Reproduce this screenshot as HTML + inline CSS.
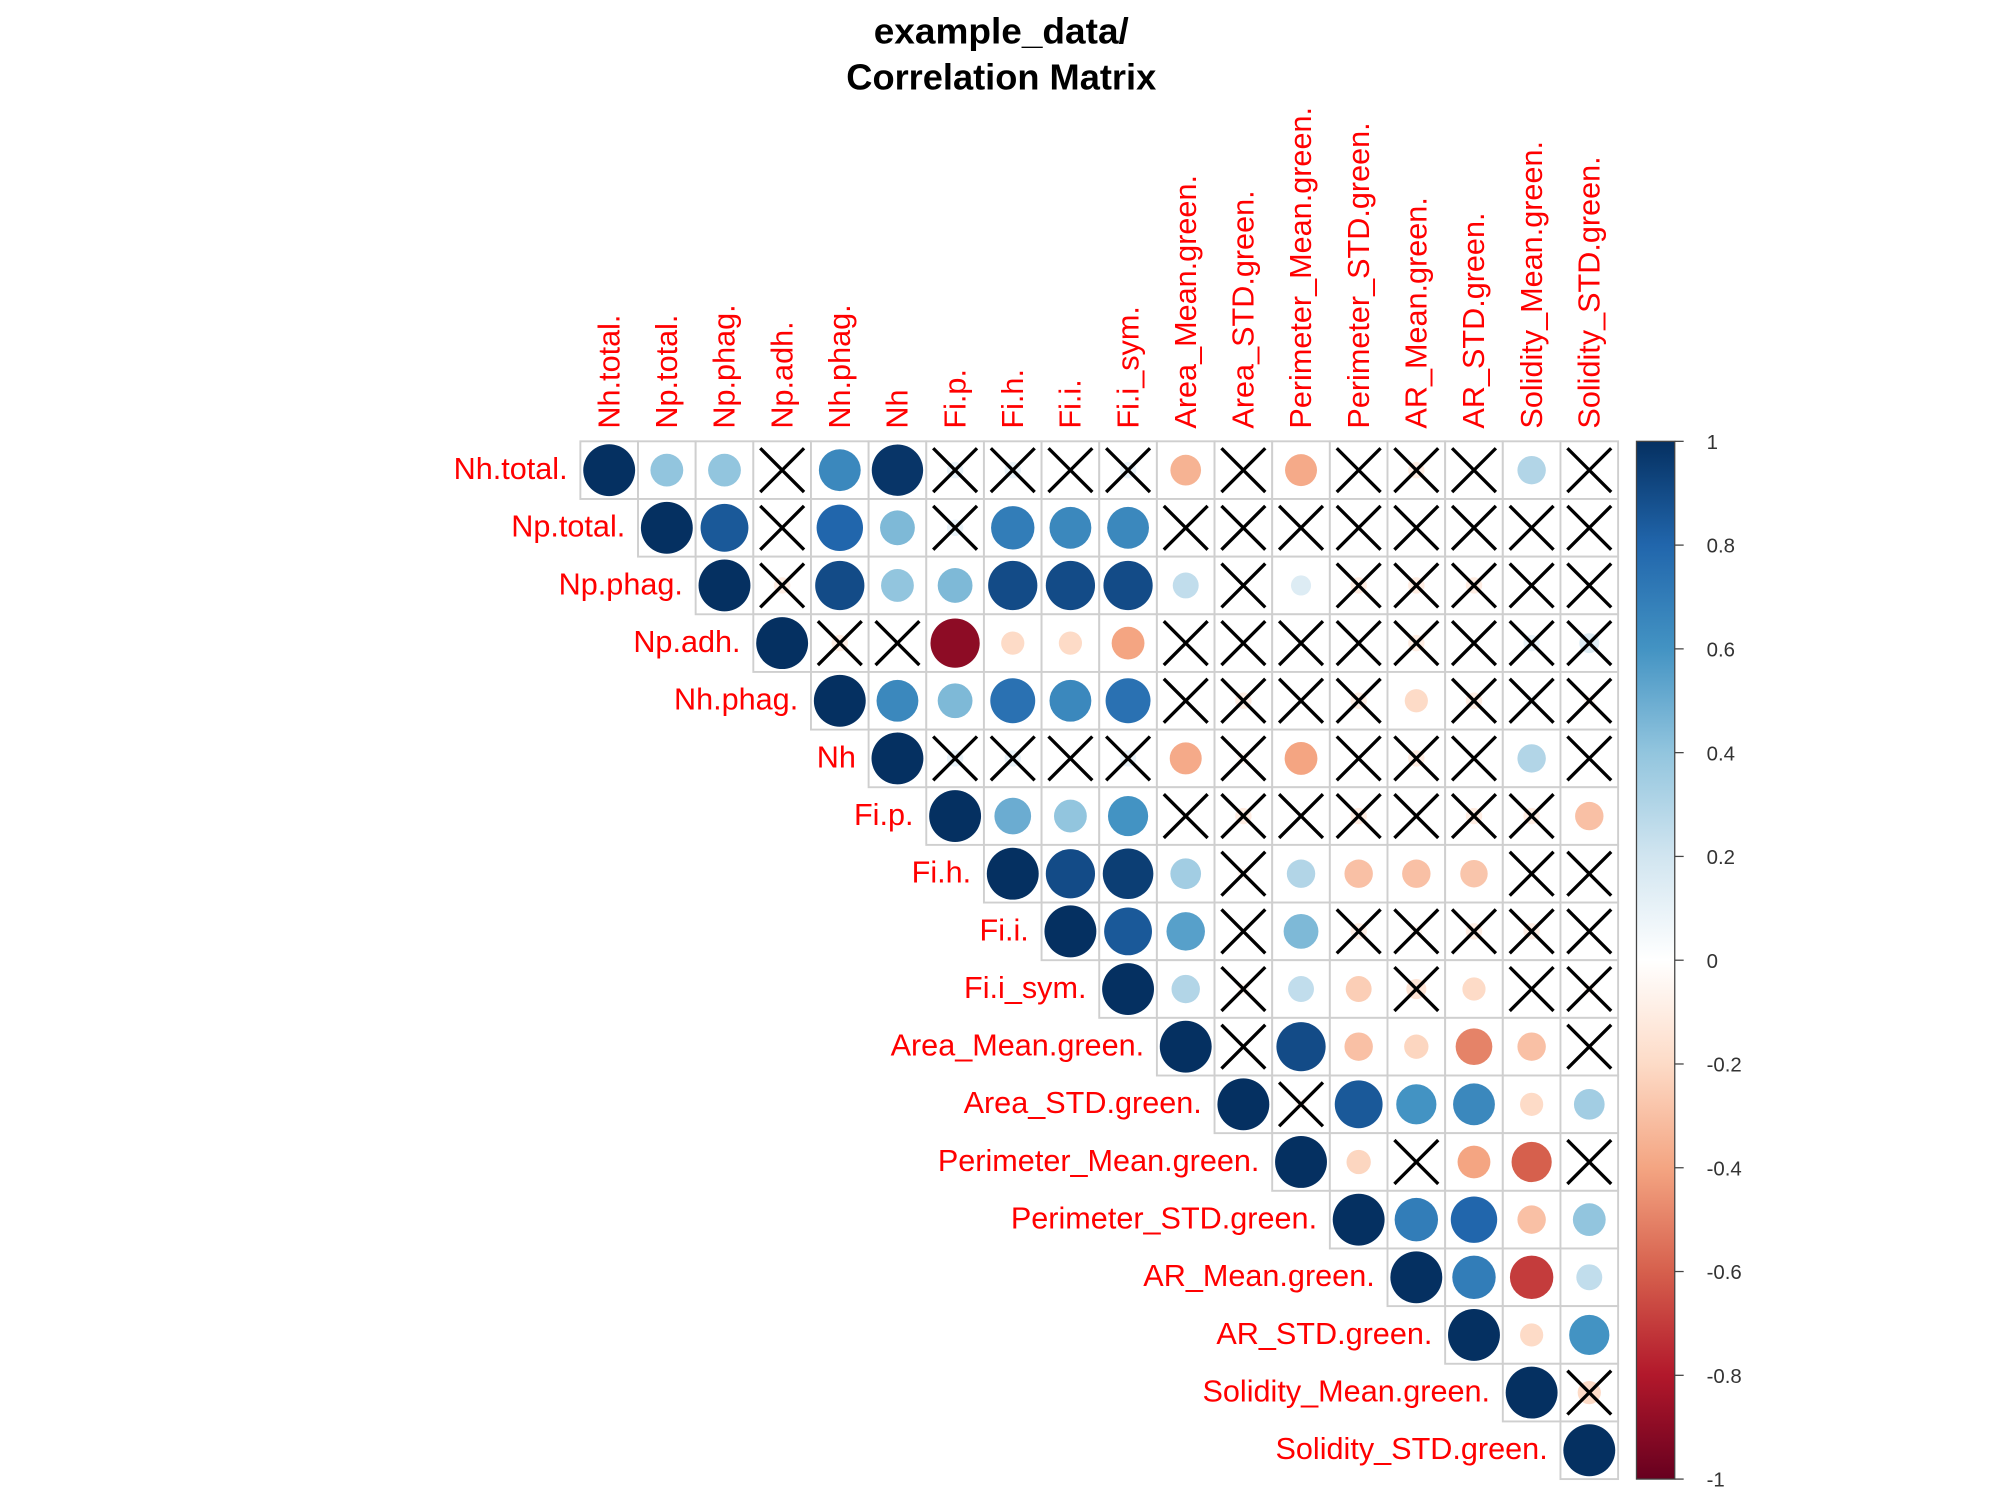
<!DOCTYPE html>
<html><head><meta charset="utf-8">
<style>html,body{margin:0;padding:0;background:#fff;}svg{display:block;}</style></head>
<body>
<svg id="chart" width="2000" height="1500" viewBox="0 0 1568 1176" preserveAspectRatio="none" xmlns="http://www.w3.org/2000/svg" font-family="'Liberation Sans', sans-serif">
<defs>
<linearGradient id="cbgrad" x1="0" y1="1" x2="0" y2="0">
<stop offset="0" stop-color="#67001F"/><stop offset="0.1" stop-color="#B2182B"/><stop offset="0.2" stop-color="#D6604D"/><stop offset="0.3" stop-color="#F4A582"/><stop offset="0.4" stop-color="#FDDBC7"/><stop offset="0.5" stop-color="#FFFFFF"/><stop offset="0.6" stop-color="#D1E5F0"/><stop offset="0.7" stop-color="#92C5DE"/><stop offset="0.8" stop-color="#4393C3"/><stop offset="0.9" stop-color="#2166AC"/><stop offset="1" stop-color="#053061"/>
</linearGradient>
</defs>
<text x="785" y="34" text-anchor="middle" font-size="28" font-weight="bold" textLength="200" lengthAdjust="spacingAndGlyphs">example_data/</text>
<text x="785" y="70" text-anchor="middle" font-size="28" font-weight="bold" textLength="243" lengthAdjust="spacingAndGlyphs">Correlation Matrix</text>
<g id="grid"></g>
<g id="colorbar"></g>
</svg>
<script>
const variables = ["Nh.total.","Np.total.","Np.phag.","Np.adh.","Nh.phag.","Nh","Fi.p.","Fi.h.","Fi.i.","Fi.i_sym.","Area_Mean.green.","Area_STD.green.","Perimeter_Mean.green.","Perimeter_STD.green.","AR_Mean.green.","AR_STD.green.","Solidity_Mean.green.","Solidity_STD.green."];
// upper triangle rows, starting at the diagonal
const corrRows = [
 [1,0.4,0.4,0,0.65,0.98,0.1,0.1,0,0.1,-0.35,0,-0.38,0,-0.1,0,0.3,0],
 [1,0.85,0,0.8,0.45,0.1,0.7,0.65,0.65,0,0,0,0,0,0,0,0],
 [1,-0.1,0.9,0.4,0.45,0.9,0.9,0.9,0.25,0,0.15,-0.1,-0.1,-0.1,0,0],
 [1,-0.1,0,-0.9,-0.2,-0.2,-0.4,0,0,0,0,-0.1,0,0.1,0.15],
 [1,0.65,0.45,0.75,0.65,0.75,0,-0.1,0,-0.1,-0.2,-0.1,0.05,-0.05],
 [1,0.1,0.1,0,0.1,-0.38,-0.05,-0.4,0,-0.1,0,0.3,0],
 [1,0.5,0.4,0.6,0,-0.1,0,-0.1,0,-0.1,-0.1,-0.3],
 [1,0.9,0.95,0.35,-0.05,0.3,-0.3,-0.3,-0.28,0,0],
 [1,0.85,0.55,0,0.45,-0.1,-0.05,-0.1,-0.1,0],
 [1,0.3,-0.05,0.25,-0.25,-0.15,-0.2,0,-0.05],
 [1,0,0.9,-0.3,-0.22,-0.5,-0.3,0],
 [1,-0.05,0.85,0.6,0.65,-0.2,0.35],
 [1,-0.22,0,-0.4,-0.6,0],
 [1,0.7,0.8,-0.3,0.4],
 [1,0.7,-0.7,0.25],
 [1,-0.2,0.6],
 [1,-0.2],
 [1]
];
// 1 = significant (circle), 0 = insignificant (cross)
const sigRows = [
 [1,1,1,0,1,1,0,0,0,0,1,0,1,0,0,0,1,0],
 [1,1,0,1,1,0,1,1,1,0,0,0,0,0,0,0,0],
 [1,0,1,1,1,1,1,1,1,0,1,0,0,0,0,0],
 [1,0,0,1,1,1,1,0,0,0,0,0,0,0,0],
 [1,1,1,1,1,1,0,0,0,0,1,0,0,0],
 [1,0,0,0,0,1,0,1,0,0,0,1,0],
 [1,1,1,1,0,0,0,0,0,0,0,1],
 [1,1,1,1,0,1,1,1,1,0,0],
 [1,1,1,0,1,0,0,0,0,0],
 [1,1,0,1,1,0,1,0,0],
 [1,0,1,1,1,1,1,0],
 [1,0,1,1,1,1,1],
 [1,1,0,1,1,0],
 [1,1,1,1,1],
 [1,1,1,1],
 [1,1,1],
 [1,0],
 [1]
];
const cbTicks = [1,0.8,0.6,0.4,0.2,0,-0.2,-0.4,-0.6,-0.8,-1];
const cbLabels = ["1","0.8","0.6","0.4","0.2","0","-0.2","-0.4","-0.6","-0.8","-1"];

const NS="http://www.w3.org/2000/svg";
const x0=455, y0=346, cw=45.2;
const xPos = j => x0 + j*cw;
const yPos = i => y0 + i*cw;
const palette=["#67001F","#B2182B","#D6604D","#F4A582","#FDDBC7","#FFFFFF","#D1E5F0","#92C5DE","#4393C3","#2166AC","#053061"];
function hex(h){return [1,3,5].map(k=>parseInt(h.substr(k,2),16));}
function colorOf(v){
  let t=(v+1)/2*10; let k=Math.min(9,Math.floor(t)); let f=t-k;
  const a=hex(palette[k]), b=hex(palette[k+1]);
  return "rgb("+a.map((c,q)=>Math.round(c+(b[q]-c)*f)).join(",")+")";
}
function mk(tag,attrs,parent){const e=document.createElementNS(NS,tag);for(const k in attrs)e.setAttribute(k,attrs[k]);parent.appendChild(e);return e;}
const g=document.getElementById("grid");
const n=variables.length;
for(let i=0;i<n;i++){
  for(let j=i;j<n;j++){
    const v=corrRows[i][j-i], s=sigRows[i][j-i];
    const cx=xPos(j)+cw/2, cy=yPos(i)+cw/2;
    const cell=mk("rect",{x:xPos(j),y:yPos(i),width:cw,height:cw,fill:"#fff",stroke:"#cfcfcf","stroke-width":1.5},g);
    
    
    const r=Math.sqrt(Math.abs(v))*cw*0.45;
    if(r>0.5){
      const c=mk("circle",{cx:cx,cy:cy,r:r,fill:colorOf(v)},g);
      
      
    }
    if(!s){
      const d=cw*0.38;
      const p=mk("path",{d:`M${cx-d},${cy-d}L${cx+d},${cy+d}M${cx+d},${cy-d}L${cx-d},${cy+d}`,stroke:"#000","stroke-width":2.6,fill:"none"},g);
      
      
    }
  }
  const rl=mk("text",{x:xPos(i)-10,y:yPos(i)+cw/2+7,"text-anchor":"end","font-size":24,fill:"#FF0000"},g);
  rl.textContent=variables[i];
  
  
  const cl=mk("text",{x:0,y:0,"text-anchor":"start","font-size":24,fill:"#FF0000",transform:`translate(${xPos(i)+cw/2+8},${y0-10}) rotate(-90)`},g);
  cl.textContent=variables[i];
  
  
}
const cb=document.getElementById("colorbar");
const cbTop=y0, cbBot=y0+n*cw;
const cbY=v=>cbTop+(1-v)/2*(cbBot-cbTop);
const bar=mk("rect",{x:1283,y:cbTop,width:30,height:cbBot-cbTop,fill:"url(#cbgrad)",stroke:"#444","stroke-width":1},cb);


cbTicks.forEach((t,k)=>{
  const l=mk("line",{x1:1313,x2:1320,y1:cbY(t),y2:cbY(t),stroke:"#444","stroke-width":1},cb);
  
  
  const tx=mk("text",{x:1338,y:cbY(t)+6,"font-size":16,fill:"#333"},cb);
  tx.textContent=cbLabels[k];
  
  
});
</script>
</body></html>
